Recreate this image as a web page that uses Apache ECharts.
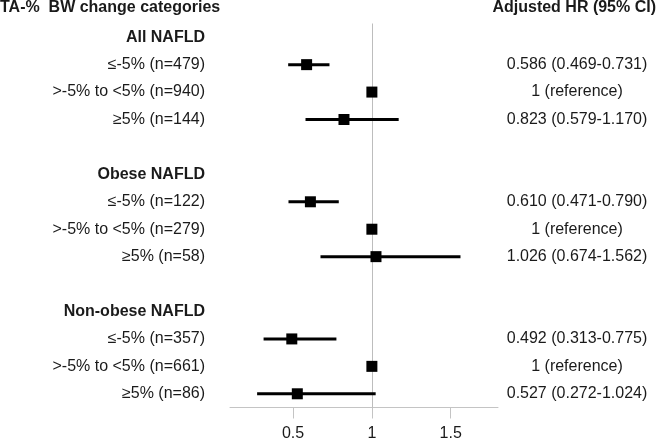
<!DOCTYPE html>
<html>
<head>
<meta charset="utf-8">
<script src="https://cdn.jsdelivr.net/npm/echarts@6/dist/echarts.min.js"></script>
<style>html,body{margin:0;padding:0;background:#fff;}#c{width:660px;height:439px;}</style>
</head>
<body>
<div id="c"></div>
<script>
// Rows (top to bottom)
const categories = ['All NAFLD', '≤-5% (n=479)', '>-5% to <5% (n=940)', '≥5% (n=144)', ' ',
  'Obese NAFLD', '≤-5% (n=122)', '>-5% to <5% (n=279)', '≥5% (n=58)', '  ',
  'Non-obese NAFLD', '≤-5% (n=357)', '>-5% to <5% (n=661)', '≥5% (n=86)'];
const headerRows = [0, 5, 10];
const hr    = [null, 0.586, 1, 0.823, null, null, 0.610, 1, 1.026, null, null, 0.492, 1, 0.527];
const ciLow = [null, 0.469, null, 0.579, null, null, 0.471, null, 0.674, null, null, 0.313, null, 0.272];
const ciHigh= [null, 0.731, null, 1.170, null, null, 0.790, null, 1.562, null, null, 0.775, null, 1.024];
const hrText = ['', '0.586 (0.469-0.731)', '1 (reference)', '0.823 (0.579-1.170)', '',
  '', '0.610 (0.471-0.790)', '1 (reference)', '1.026 (0.674-1.562)', '',
  '', '0.492 (0.313-0.775)', '1 (reference)', '0.527 (0.272-1.024)'];
const xTicks = [0.5, 1, 1.5];
const leftTitle = 'TA-%  BW change categories';
const rightTitle = 'Adjusted HR (95% CI)';

const FONT = '"Liberation Sans", Arial, sans-serif';
const TXT = '#1a1a1a';

const pointData = [];
const ciData = [];
hr.forEach((v, i) => { if (v != null) pointData.push([v, i]); });
ciLow.forEach((v, i) => { if (v != null) ciData.push([i, v, ciHigh[i]]); });

const chart = echarts.init(document.getElementById('c'), null, {renderer: 'canvas'});
chart.setOption({
  animation: false,
  textStyle: {fontFamily: FONT},
  grid: {left: 230, right: 162, top: 23.5, bottom: 31.5, containLabel: false, outerBoundsMode: 'none'},
  xAxis: {
    type: 'value', min: 0.1, max: 1.8,
    axisLine: {show: true, lineStyle: {color: '#c4c4c4', width: 1}},
    axisTick: {show: true, length: 11, inside: false, customValues: xTicks, lineStyle: {color: '#c4c4c4'}},
    axisLabel: {customValues: xTicks, fontSize: 16, color: TXT, margin: 18, fontFamily: FONT,
      formatter: v => String(v)},
    splitLine: {show: false}
  },
  yAxis: [{
    type: 'category', data: categories, inverse: true,
    axisLine: {show: false}, axisTick: {show: false}, splitLine: {show: false},
    axisLabel: {
      margin: 25, fontSize: 16, color: TXT, fontFamily: FONT, interval: 0,
      formatter: (v, i) => headerRows.indexOf(i) >= 0 ? '{b|' + v + '}' : v,
      rich: {b: {fontWeight: 'bold', fontSize: 16, color: TXT, fontFamily: FONT}}
    }
  }, {
    type: 'category', data: hrText, inverse: true, position: 'right',
    axisLine: {show: false}, axisTick: {show: false}, splitLine: {show: false},
    axisLabel: {margin: 79, align: 'center', fontSize: 16, color: TXT, fontFamily: FONT, interval: 0}
  }],
  graphic: [
    {type: 'text', left: 0, top: 0, style: {text: leftTitle, font: 'bold 16px ' + FONT, fill: TXT}},
    {type: 'text', right: 4, top: 0, style: {text: rightTitle, font: 'bold 16px ' + FONT, fill: TXT}}
  ],
  series: [{
    type: 'custom',
    data: ciData,
    dimensions: ['row', 'lo', 'hi'],
    encode: {y: 0, x: [1, 2]},
    renderItem: (params, api) => {
      const row = api.value(0);
      const a = api.coord([api.value(1), row]);
      const b = api.coord([api.value(2), row]);
      return {type: 'line', shape: {x1: a[0], y1: a[1], x2: b[0], y2: b[1]},
        style: {stroke: '#000', lineWidth: 3}};
    },
    z: 3
  }, {
    type: 'scatter',
    data: pointData,
    symbol: 'rect', symbolSize: 11,
    itemStyle: {color: '#000', opacity: 1},
    z: 4,
    markLine: {
      silent: true, symbol: 'none', label: {show: false}, z: 1,
      lineStyle: {color: '#bdbdbd', width: 1, type: 'solid'},
      data: [{xAxis: 1}]
    }
  }]
});
</script>
</body>
</html>
